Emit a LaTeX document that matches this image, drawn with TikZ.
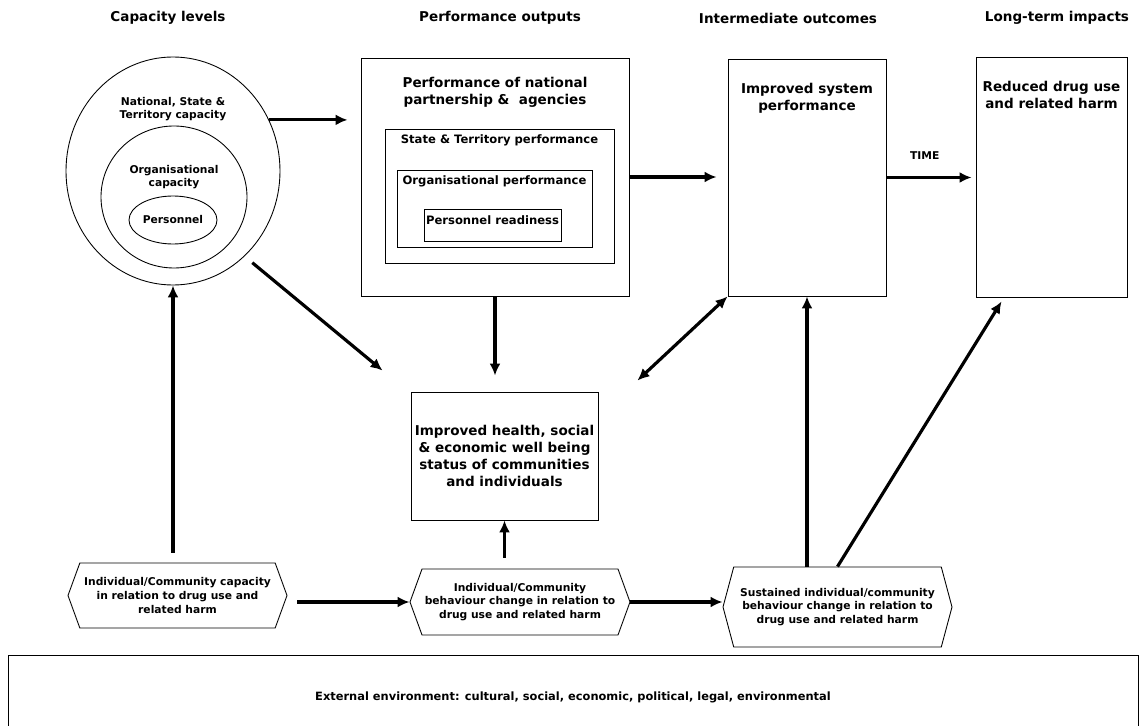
\documentclass[tikz,border=0pt]{standalone}
\usepackage{fontspec}
\setmainfont{DejaVu Sans}
\usetikzlibrary{arrows.meta,shapes.geometric,shapes.symbols,positioning}
\newcommand{\px}{0.02cm}
\newcommand{\bigtxt}{\fontsize{7.7}{9.8}\selectfont\bfseries}
\newcommand{\envtxt}{\fontsize{6.5}{8}\selectfont\bfseries}
\newcommand{\midtxt}{\fontsize{6.6}{8.2}\selectfont\bfseries}
\newcommand{\smalltxt}{\fontsize{6.1}{7.7}\selectfont\bfseries}
\tikzset{
    boxsty/.style={draw,rectangle,line width=0.5pt,inner sep=0pt},
    ellsty/.style={draw,ellipse,line width=0.5pt,inner sep=0pt},
    hexsty/.style={draw,signal,signal to=west and east,signal pointer angle=140,line width=0.5pt,inner sep=0pt,align=center,font=\smalltxt},
    headsty/.style={font=\bigtxt,anchor=center},
    titlesty/.style={font=\bigtxt,align=center,inner sep=0pt},
    midsty/.style={font=\midtxt,align=center,inner sep=0pt},
    smallsty/.style={font=\smalltxt,align=center,inner sep=0pt},
    arrsty/.style={-{Latex[length=2.4mm,width=2.2mm]},line width=1.8pt},
    dblarrsty/.style={{Latex[length=2.4mm,width=2.2mm]}-{Latex[length=2.4mm,width=2.2mm]},line width=1.8pt},
}

\begin{document}
\begin{tikzpicture}[x=\px,y=-\px]
  \useasboundingbox (0,0) rectangle (1139,726);

  % column headings
  \node[headsty] (hcap) at (168,18) {Capacity levels};
  \node[headsty] (hperf) at (500,18) {Performance outputs};
  \node[headsty] (hint) at (788,18) {Intermediate outcomes};
  \node[headsty] (hlong) at (1057,18) {Long-term impacts};

  % capacity levels
  \node[ellsty, minimum width=214*\px, minimum height=228*\px] (outer) at (173,171) {};
  \node[ellsty, minimum width=146*\px, minimum height=142*\px] (mid) at (174,197) {};
  \node[ellsty, minimum width=88*\px, minimum height=48*\px, font=\smalltxt] (pers) at (173,220) {Personnel};
  \node[smallsty, below=0.8cm of outer.north] (outtxt) {National, State \&\\Territory capacity};
  \node[smallsty, below=0.78cm of mid.north] (midtxt) {Organisational\\capacity};

  % performance outputs
  \node[boxsty, minimum width=268*\px, minimum height=238*\px] (perf) at (495,177) {};
  \node[boxsty, minimum width=229*\px, minimum height=134*\px] (state) at (499.5,196) {};
  \node[boxsty, minimum width=195*\px, minimum height=77*\px] (org) at (494.5,208.5) {};
  \node[boxsty, minimum width=137*\px, minimum height=32*\px] (persready) at (492.5,225) {};
  \node[titlesty, below=0.39cm of perf.north] (perftxt) {Performance of national\\partnership \&\ \ agencies};
  \node[midsty, below=0.11cm of state.north] (statetxt) {State \& Territory performance};
  \node[midsty, below=0.11cm of org.north] (orgtxt) {Organisational performance};
  \node[midsty, below=0.13cm of persready.north] (persreadytxt) {Personnel readiness};

  % outcomes and impacts
  \node[boxsty, minimum width=158*\px, minimum height=237*\px] (sys) at (807,177.5) {};
  \node[boxsty, minimum width=151*\px, minimum height=240*\px] (reduced) at (1051.5,177) {};
  \node[titlesty, below=0.49cm of sys.north] (systxt) {Improved system\\performance};
  \node[titlesty, below=0.49cm of reduced.north] (reducedtxt) {Reduced drug use\\and related harm};
  \node[boxsty, minimum width=187*\px, minimum height=128*\px, font=\bigtxt, align=center] (health) at (504.5,456)
    {Improved health, social\\\& economic well being\\status of communities\\and individuals};

  % individual / community level
  \node[hexsty, minimum width=219*\px, minimum height=65*\px] (hexcap) at (177.5,595.5)
    {Individual/Community capacity\\in relation to drug use and\\related harm};
  \node[hexsty, minimum width=220*\px, minimum height=66*\px] (hexchg) at (520,602)
    {Individual/Community\\behaviour change in relation to\\drug use and related harm};
  \node[hexsty, minimum width=229*\px, minimum height=80*\px, signal pointer angle=150] (hexsus) at (837.5,607)
    {Sustained individual/community\\behaviour change in relation to\\drug use and related harm};

  % environment
  \node[boxsty, minimum width=1130*\px, minimum height=84*\px, font=\envtxt] (env) at (573,697)
    {External environment: cultural, social, economic, political, legal, environmental};

  % arrows
  \draw[arrsty, shorten >=0.26cm] (outer.28) -- (outer.28 -| perf.west);
  \draw[arrsty, shorten >=0.22cm] (perf.east) -- (perf.east -| sys.west);
  \draw[arrsty, shorten >=0.08cm] (sys.east) -- node[pos=0.43, above=0.32cm, font=\smalltxt, inner sep=0pt] (time) {TIME} (sys.east -| reduced.west);
  \draw[arrsty, shorten >=0.32cm] (perf.south) -- (perf.south |- health.north);
  \draw[arrsty, shorten <=0.2cm] (outer.-50) -- ([shift={(-28,-21)}]health.north west);
  \draw[dblarrsty] ([shift={(39,-11)}]health.north east) -- (sys.south west);
  \draw[arrsty, shorten <=0.2cm] (outer.south |- hexcap.north) -- (outer.south);
  \draw[arrsty, shorten <=0.2cm] (hexcap.east |- hexchg.west) -- (hexchg.west);
  \draw[arrsty] (hexchg.east) -- (hexchg.east -| hexsus.west);
  \draw[arrsty, shorten <=0.22cm] (health.south |- hexchg.north) -- (health.south);
  \draw[arrsty] (sys.south |- hexsus.north) -- (sys.south);
  \draw[arrsty] (hexsus.north) -- ([shift={(26,4)}]reduced.south west);
\end{tikzpicture}
\end{document}
